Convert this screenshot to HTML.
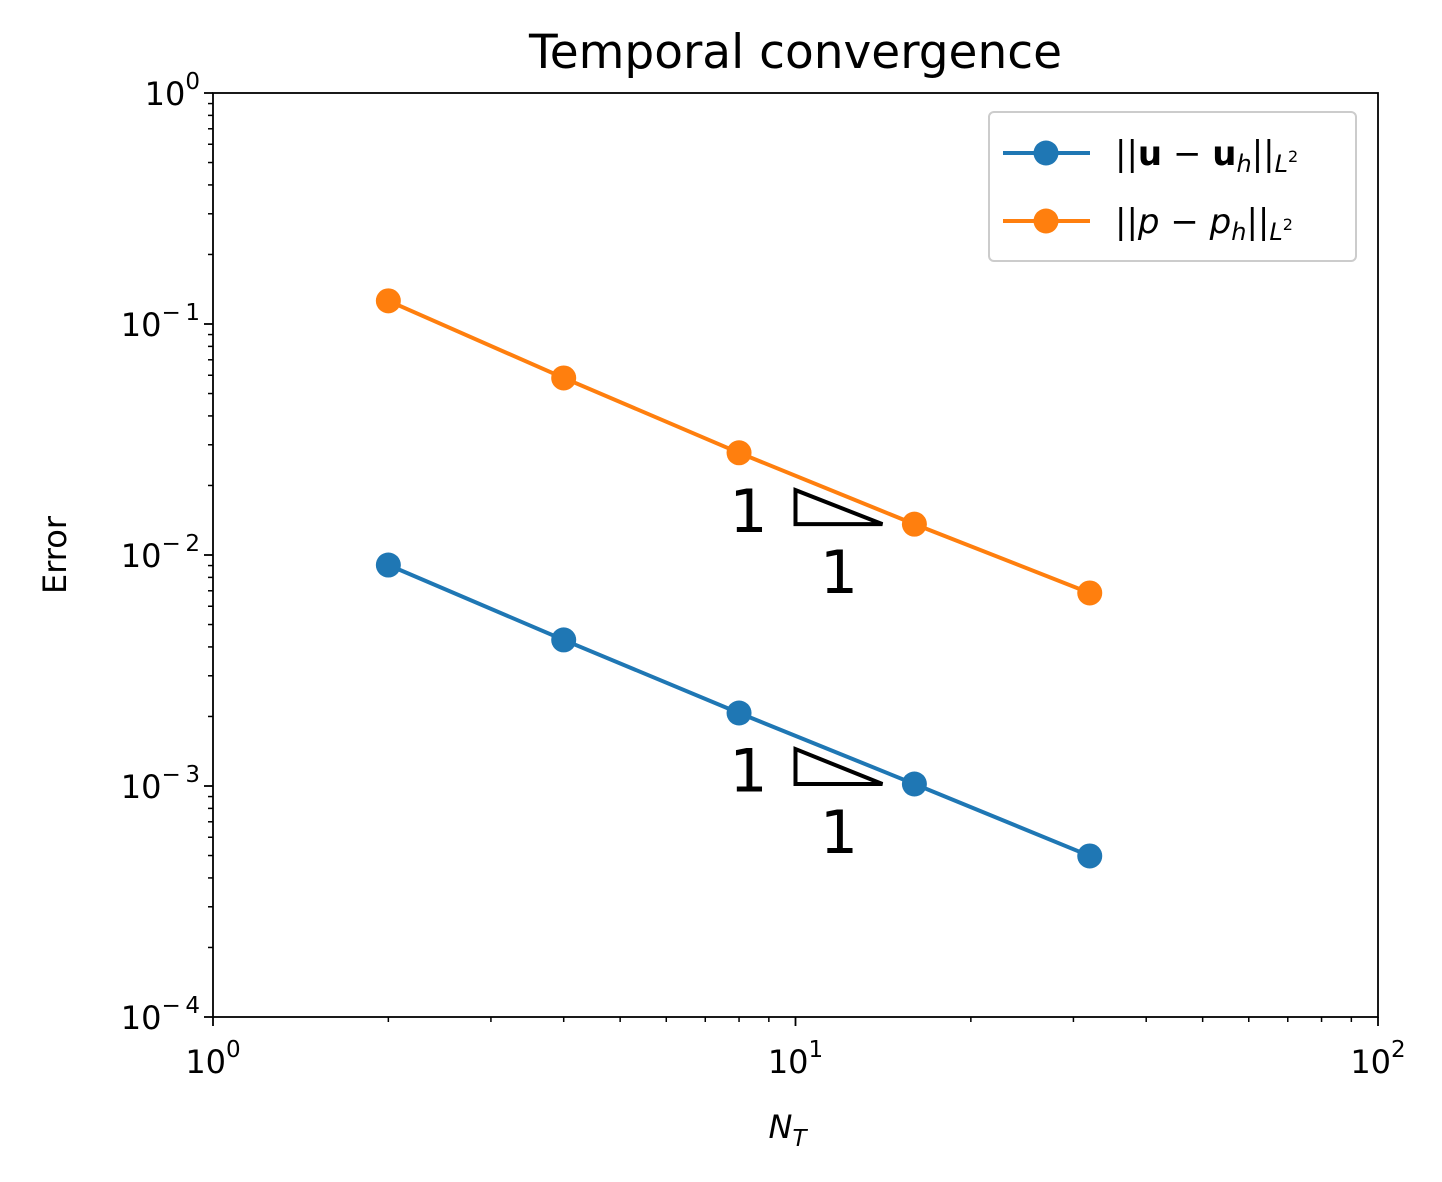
<!DOCTYPE html>
<html><head><meta charset="utf-8"><style>
html,body{margin:0;padding:0;background:#fff;}
svg text{font-family:"DejaVu Sans","Liberation Sans",sans-serif;fill:#000;}
</style></head><body>
<svg id="chart" width="1442" height="1177" xmlns="http://www.w3.org/2000/svg">
<rect width="1442" height="1177" fill="#fff"/>
<g id="plot"></g>
</svg>
<script>
const xValues = [2, 4, 8, 16, 32];
const uErrors = [0.00905, 0.00429, 0.00207, 0.00102, 0.000498];
const pErrors = [0.126, 0.0584, 0.0277, 0.0136, 0.00685];
const xTickExps = [0, 1, 2];
const yTickExps = [0, -1, -2, -3, -4];
const triangles = [[10, 14.1, 0.0191, 0.0136], [10, 14.1, 0.001445, 0.00102]];

const X0 = 213, X1 = 1378, Y0 = 93, Y1 = 1017;
function sx(v){ return X0 + (Math.log10(v) - 0) / 2 * (X1 - X0); }
function sy(v){ return Y0 + (0 - Math.log10(v)) / 4 * (Y1 - Y0); }
const NS = "http://www.w3.org/2000/svg";
const g = document.getElementById('plot');
function mk(tag, attrs, parent){
  const e = document.createElementNS(NS, tag);
  for (const k in attrs) e.setAttribute(k, attrs[k]);
  (parent || g).appendChild(e); return e;
}
for (let d = 0; d < 2; d++) for (let m = 2; m < 10; m++) {
  const x = sx(m * Math.pow(10, d));
  const t = mk('line', {x1:x, x2:x, y1:Y1, y2:Y1+5, stroke:'#000', 'stroke-width':1.5});
  
  
}
for (let d = -4; d < 0; d++) for (let m = 2; m < 10; m++) {
  const y = sy(m * Math.pow(10, d));
  const t = mk('line', {x1:X0-5, x2:X0, y1:y, y2:y, stroke:'#000', 'stroke-width':1.5});
  
  
}
xTickExps.forEach(e => {
  const x = sx(Math.pow(10, e));
  const t = mk('line', {x1:x, x2:x, y1:Y1, y2:Y1+9, stroke:'#000', 'stroke-width':1.8});
  
  
  const tx = mk('text', {x:x, y:Y1+56, 'text-anchor':'middle', 'font-size':32});
  
  
  tx.innerHTML = '10<tspan dy="-16" font-size="23">' + e + '</tspan>';
});
yTickExps.forEach(e => {
  const y = sy(Math.pow(10, e));
  const t = mk('line', {x1:X0-9, x2:X0, y1:y, y2:y, stroke:'#000', 'stroke-width':1.8});
  
  
  const tx = mk('text', {x:X0-13, y:y+12, 'text-anchor':'end', 'font-size':32});
  
  
  const ex = e === 0 ? '0' : '\u2212\u2009' + (-e);
  tx.innerHTML = '10<tspan dy="-16" font-size="23">' + ex + '</tspan>';
});
function series(vals, color, name){
  const pts = xValues.map((x, i) => sx(x) + ',' + sy(vals[i])).join(' ');
  const l = mk('polyline', {points:pts, fill:'none', stroke:color, 'stroke-width':4});
  
  
  xValues.forEach((x, i) => {
    const c = mk('circle', {cx:sx(x), cy:sy(vals[i]), r:12.5, fill:color});
    
    
  });
}
series(uErrors, '#1f77b4', 'u-error');
series(pErrors, '#ff7f0e', 'p-error');
triangles.forEach(t => {
  const xa = sx(t[0]), xb = sx(t[1]), ya = sy(t[2]), yb = sy(t[3]);
  const p = mk('polygon', {points:`${xa},${ya} ${xa},${yb} ${xb},${yb}`, fill:'none', stroke:'#000', 'stroke-width':4});
  
  
  const a = mk('text', {x:xa-28, y:(ya+yb)/2+25, 'text-anchor':'end', 'font-size':60});
  
  
  a.textContent = '1';
  const b = mk('text', {x:(xa+xb)/2, y:yb+69, 'text-anchor':'middle', 'font-size':60});
  
  
  b.textContent = '1';
});
const fr = mk('rect', {x:X0, y:Y0, width:X1-X0, height:Y1-Y0, fill:'none', stroke:'#000', 'stroke-width':1.8});


const ti = mk('text', {x:(X0+X1)/2, y:68, 'text-anchor':'middle', 'font-size':47});


ti.textContent = 'Temporal convergence';
const xl = mk('text', {x:(X0+X1)/2 - 8, y:1138, 'text-anchor':'middle', 'font-size':32, 'font-style':'italic'});


xl.innerHTML = 'N<tspan dy="8" font-size="23">T</tspan>';
const yl = mk('text', {x:0, y:0, 'text-anchor':'middle', 'font-size':32, transform:'translate(66,' + (Y0+Y1)/2 + ') rotate(-90)'});


yl.textContent = 'Error';
const lg = mk('g', {});


const lb = mk('rect', {x:989, y:112, width:367, height:149, rx:5, fill:'#fff', 'fill-opacity':0.8, stroke:'#ccc', 'stroke-width':2}, lg);


[['#1f77b4', 153, '<tspan font-style="normal">||</tspan><tspan font-weight="bold" font-style="normal">u</tspan><tspan font-style="normal"> \u2212 </tspan><tspan font-weight="bold" font-style="normal">u</tspan><tspan dy="7" font-size="24">h</tspan><tspan dy="-7" font-style="normal">||</tspan><tspan dy="7" font-size="24">L</tspan><tspan dy="-10" font-size="16" font-style="normal">2</tspan>', 'legend-entry-u'],
 ['#ff7f0e', 221, '<tspan font-style="normal">||</tspan>p<tspan font-style="normal"> \u2212 </tspan>p<tspan dy="7" font-size="24">h</tspan><tspan dy="-7" font-style="normal">||</tspan><tspan dy="7" font-size="24">L</tspan><tspan dy="-10" font-size="16" font-style="normal">2</tspan>', 'legend-entry-p']].forEach(r => {
  const eg = mk('g', {}, lg);
  
  
  mk('line', {x1:1003, x2:1090, y1:r[1], y2:r[1], stroke:r[0], 'stroke-width':4}, eg);
  mk('circle', {cx:1046, cy:r[1], r:12.5, fill:r[0]}, eg);
  const t = mk('text', {x:1115, y:r[1]+12, 'font-size':34, 'font-style':'italic'}, eg);
  t.innerHTML = r[2];
});
</script>
</body></html>
